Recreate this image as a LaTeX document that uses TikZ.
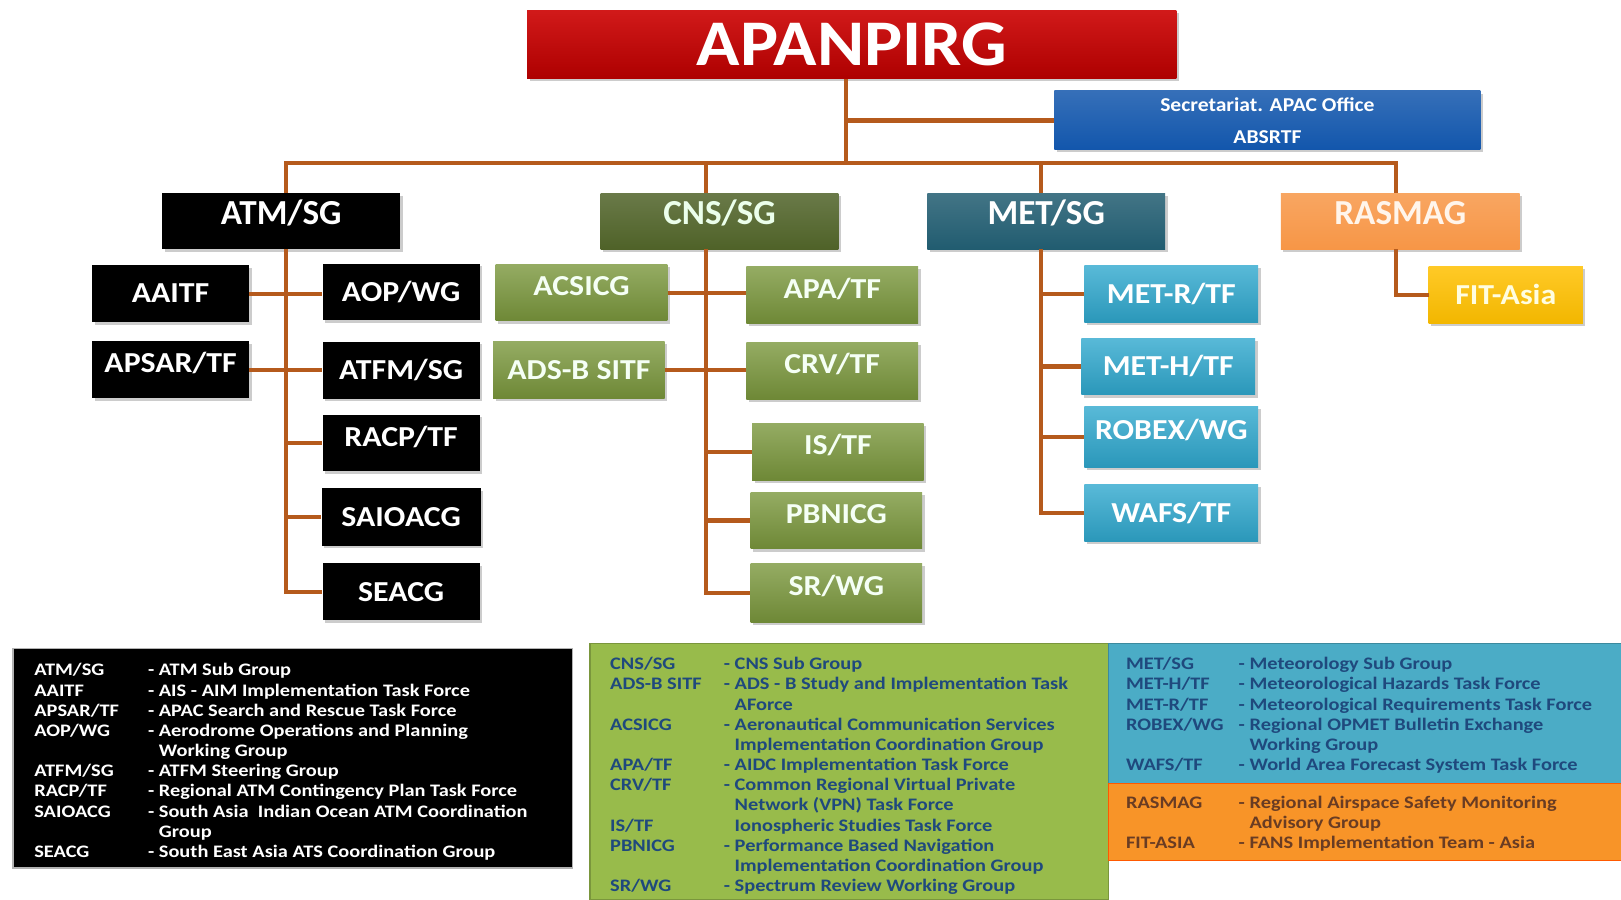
\documentclass[tikz,border=0pt]{standalone}
\usepackage{fontspec}
\setmainfont{Carlito}
\newfontfamily\keyfont[FakeStretch=1.16]{Carlito}
\newfontfamily\wideboxfont[FakeStretch=1.1]{Carlito}
\usetikzlibrary{shadows}
\definecolor{linkbrown}{RGB}{181,90,28}
\definecolor{titlered}{RGB}{204,0,0}
\definecolor{officeblue}{RGB}{18,86,172}
\definecolor{cnsdark}{RGB}{79,98,40}
\definecolor{cnslight}{RGB}{122,151,60}
\definecolor{metdark}{RGB}{33,92,112}
\definecolor{metlight}{RGB}{47,168,206}
\definecolor{rasorange}{RGB}{247,150,70}
\definecolor{fityellow}{RGB}{255,192,0}
\definecolor{keygreen}{RGB}{152,187,75}
\definecolor{keyblue}{RGB}{75,172,198}
\definecolor{keyorange}{RGB}{248,148,40}
\definecolor{inkblue}{RGB}{31,73,125}
\definecolor{inkbrown}{RGB}{105,60,35}

\begin{document}
\begin{tikzpicture}[x=1pt,y=-1pt,
                        boxbase/.style={rectangle,inner sep=0pt,
                            drop shadow={shadow xshift=2.5pt,shadow yshift=-2.5pt,opacity=.4}},
                        title/.style={boxbase,top color=titlered!90!white,bottom color=titlered!85!black,
                            minimum width=628pt,minimum height=66pt,text=white,
                            font=\wideboxfont\fontsize{63}{66}\selectfont\bfseries},
                        office/.style={boxbase,top color=officeblue!85!white,bottom color=officeblue,
                            minimum width=412pt,minimum height=57pt,text=white,align=center,
                            font=\wideboxfont\fontsize{19}{31}\selectfont\bfseries},
                        mainbox/.style={boxbase,minimum width=230pt,minimum height=54pt,
                            text height=22pt,text depth=16pt,
                            font=\fontsize{34}{36}\selectfont\bfseries},
                        subbox/.style={boxbase,minimum height=55pt,text height=18pt,text depth=0pt,
                            font=\wideboxfont\fontsize{28}{30}\selectfont\bfseries},
                        raised/.style={text depth=12pt},
                        atmsub/.style={subbox,fill=black,text=white,minimum width=152pt},
                        cnssub/.style={subbox,top color=cnslight!80!white,bottom color=cnslight!90!black,
                            text=green!4!white,minimum width=166pt},
                        metsub/.style={subbox,top color=metlight!80!white,bottom color=metlight!90!black,
                            text=white,minimum width=168pt},
                        link/.style={draw=linkbrown,line width=4pt},
                        keybox/.style={rectangle,anchor=north west,inner sep=0pt,line width=1.2pt},
                        keytext/.style={anchor=north west,inner sep=0pt,
                            font=\keyfont\fontsize{17}{19.5}\selectfont\bfseries}]
                        \useasboundingbox (0,0) rectangle (1568,870);

                        \node[title] (apanpirg) at (824,43) {APANPIRG};
                        \node[office] (secr) at (1226,116.5) {Secretariat. APAC Office\\ABSRTF};

                        \node[mainbox,fill=black,text=white] (atm) at (272,214) {ATM/SG};
                        \node[mainbox,top color=cnsdark!85!white,bottom color=cnsdark,text=green!8!white] (cns) at (696,214) {CNS/SG};
                        \node[mainbox,top color=metdark!85!white,bottom color=metdark,text=white] (met) at (1012,214) {MET/SG};
                        \node[mainbox,top color=rasorange!85!white,bottom color=rasorange,text=orange!8!white,
                            minimum width=231pt] (rasmag) at (1354.5,214) {RASMAG};

                        \node[atmsub] (aaitf) at (165,284) {AAITF};
                        \node[atmsub,raised] (apsar) at (165,357.5) {APSAR/TF};
                        \node[atmsub] (aop) at (388,282.5) {AOP/WG};
                        \node[atmsub] (atfm) at (388,358) {ATFM/SG};
                        \node[atmsub,raised] (racp) at (388,428.5) {RACP/TF};
                        \node[atmsub,minimum width=154pt,minimum height=56pt] (saioacg) at (388,500) {SAIOACG};
                        \node[atmsub] (seacg) at (388,572.5) {SEACG};

                        \node[cnssub,raised] (acsicg) at (562.5,283) {ACSICG};
                        \node[cnssub] (adsb) at (560,358) {ADS-B SITF};
                        \node[cnssub,raised] (apa) at (805,285.5) {APA/TF};
                        \node[cnssub,raised] (crv) at (805,358.5) {CRV/TF};
                        \node[cnssub,raised] (istf) at (810.5,437) {IS/TF};
                        \node[cnssub,raised] (pbnicg) at (809,503.5) {PBNICG};
                        \node[cnssub,raised,minimum height=57pt] (srwg) at (809,573.5) {SR/WG};

                        \node[metsub] (metr) at (1133,284.5) {MET-R/TF};
                        \node[metsub] (meth) at (1130,354.5) {MET-H/TF};
                        \node[metsub,raised,minimum height=59pt] (robex) at (1133,422.5) {ROBEX/WG};
                        \node[metsub] (wafs) at (1133,496.5) {WAFS/TF};

                        \node[subbox,top color=fityellow!85!white,bottom color=fityellow!95!black,
                            text=yellow!12!white,minimum width=149pt] (fit) at (1456.5,285.5) {FIT-Asia};

                        \coordinate (bus) at (818,158);
                        \coordinate (atmspine) at (277,158);
                        \coordinate (cnsspine) at (683,158);
                        \coordinate (metspine) at (1007,158);
                        \coordinate (rasmagspine) at (1350,158);

                        \draw[link] (apanpirg.south -| bus) -- (bus);
                        \draw[link] (bus |- secr.west) -- (secr.west);
                        \draw[link] (atm.north -| atmspine) -- (atmspine) -- (rasmagspine) -- (rasmag.north -| rasmagspine);
                        \draw[link] (cns.north -| cnsspine) -- (cnsspine);
                        \draw[link] (met.north -| metspine) -- (metspine);

                        \draw[link] (atm.south -| atmspine) |- (seacg.west);
                        \draw[link] (aaitf.east) -- (aaitf.east -| aop.west);
                        \draw[link] (apsar.east) -- (apsar.east -| atfm.west);
                        \draw[link] (atmspine |- racp.west) -- (racp.west);
                        \draw[link] (atmspine |- saioacg.west) -- (saioacg.west);

                        \draw[link] (cns.south -| cnsspine) |- (srwg.west);
                        \draw[link] (acsicg.east) -- (acsicg.east -| apa.west);
                        \draw[link] (adsb.east) -- (adsb.east -| crv.west);
                        \draw[link] (cnsspine |- istf.west) -- (istf.west);
                        \draw[link] (cnsspine |- pbnicg.west) -- (pbnicg.west);

                        \draw[link] (met.south -| metspine) |- (wafs.west);
                        \draw[link] (metspine |- metr.west) -- (metr.west);
                        \draw[link] (metspine |- meth.west) -- (meth.west);
                        \draw[link] (metspine |- robex.west) -- (robex.west);

                        \draw[link] (rasmag.south -| rasmagspine) |- (fit.west);

                        \node[keybox,fill=black,draw=gray!60,minimum width=541pt,minimum height=212pt] (atmkey) at (12,627) {};
                        \node[keybox,fill=keygreen,draw=keygreen!80!black,minimum width=502pt,minimum height=248pt] (cnskey) at (570,622) {};
                        \node[keybox,fill=keyblue,draw=keyblue!80!black,minimum width=496pt,minimum height=135pt] (metkey) at (1072,622) {};
                        \node[keybox,fill=keyorange,draw=orange!70!red,minimum width=496pt,minimum height=75pt] (raskey) at (1072,757) {};

                        \node[keytext,text=white] (atmlist) at (33,640) {%
                            \begin{tabular}{@{}p{110pt}@{}l@{}}
                            ATM/SG & - ATM Sub Group\\
                            AAITF & - AIS - AIM Implementation Task Force\\
                            APSAR/TF & - APAC Search and Rescue Task Force\\
                            AOP/WG & - Aerodrome Operations and Planning\\
                             & \phantom{- }Working Group\\
                            ATFM/SG & - ATFM Steering Group\\
                            RACP/TF & - Regional ATM Contingency Plan Task Force\\
                            SAIOACG & - South Asia\ \ Indian Ocean ATM Coordination\\
                             & \phantom{- }Group\\
                            SEACG & - South East Asia ATS Coordination Group
                            \end{tabular}};
                        \node[keytext,text=inkblue] (cnslist) at (590,634) {%
                            \begin{tabular}{@{}p{110pt}@{}l@{}}
                            CNS/SG & - CNS Sub Group\\
                            ADS-B SITF & - ADS - B Study and Implementation Task\\
                             & \phantom{- }AForce\\
                            ACSICG & - Aeronautical Communication Services\\
                             & \phantom{- }Implementation Coordination Group\\
                            APA/TF & - AIDC Implementation Task Force\\
                            CRV/TF & - Common Regional Virtual Private\\
                             & \phantom{- }Network (VPN) Task Force\\
                            IS/TF & \phantom{- }Ionospheric Studies Task Force\\
                            PBNICG & - Performance Based Navigation\\
                             & \phantom{- }Implementation Coordination Group\\
                            SR/WG & - Spectrum Review Working Group
                            \end{tabular}};
                        \node[keytext,text=inkblue] (metlist) at (1089,634) {%
                            \begin{tabular}{@{}p{109pt}@{}l@{}}
                            MET/SG & - Meteorology Sub Group\\
                            MET-H/TF & - Meteorological Hazards Task Force\\
                            MET-R/TF & - Meteorological Requirements Task Force\\
                            ROBEX/WG & - Regional OPMET Bulletin Exchange\\
                             & \phantom{- }Working Group\\
                            WAFS/TF & - World Area Forecast System Task Force
                            \end{tabular}};
                        \node[keytext,text=inkbrown] (raslist) at (1089,768) {%
                            \begin{tabular}{@{}p{109pt}@{}l@{}}
                            RASMAG & - Regional Airspace Safety Monitoring\\
                             & \phantom{- }Advisory Group\\
                            FIT-ASIA & - FANS Implementation Team - Asia
                            \end{tabular}};
                    \end{tikzpicture}
\end{document}
